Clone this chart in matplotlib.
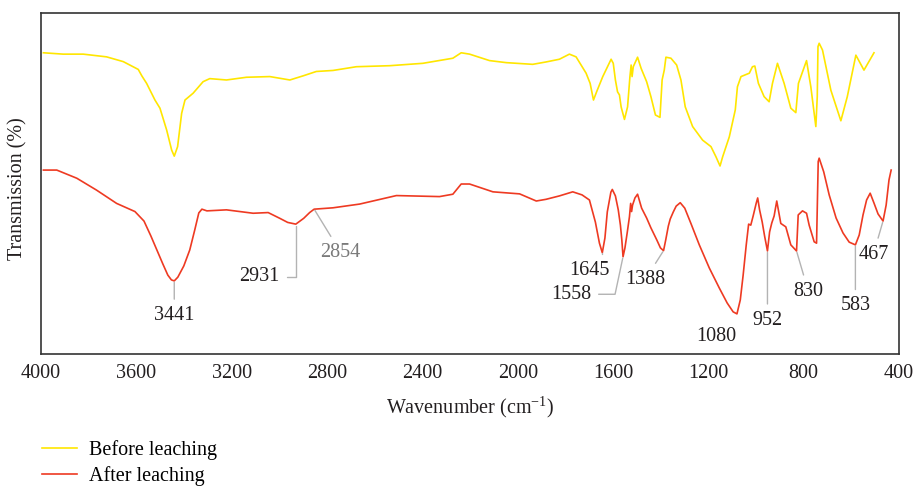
import matplotlib
matplotlib.use('Agg')
import matplotlib.pyplot as plt

plt.rcParams['font.family'] = 'Liberation Serif'
plt.rcParams['mathtext.fontset'] = 'custom'
plt.rcParams['mathtext.rm'] = 'Liberation Serif'

# FTIR spectrum before leaching
before_wn = [3990, 3907, 3823, 3725, 3655, 3592, 3577, 3557, 3522, 3501, 3473, 3452, 3441, 3427, 3410, 3396,
             3362, 3320, 3292, 3222, 3138, 3040, 2956, 2901, 2845, 2775, 2677, 2537, 2398, 2272, 2237,
             2202, 2118, 2048, 1937, 1881, 1825, 1783, 1755, 1713, 1696, 1682, 1669, 1643, 1608, 1599,
             1590, 1581, 1573, 1566, 1552, 1539, 1529, 1524, 1520, 1515, 1497, 1482, 1459, 1441, 1422,
             1403, 1394, 1385, 1378, 1357, 1333, 1315, 1297, 1266, 1224, 1189, 1168, 1151, 1140, 1112,
             1087, 1078, 1063, 1028, 1015, 1005, 990, 966, 945, 931, 910, 882, 854, 833, 822,
             788, 770, 749, 743, 740, 735, 721, 686, 644, 617, 581, 547, 505]
before_t = [88.6, 88.2, 88.2, 87.4, 86.0, 83.7, 81.8, 79.6, 74.7, 72.3, 65.9, 60.0, 58.2, 61.0, 70.8, 74.7,
            76.7, 80.1, 81.0, 80.6, 81.4, 81.6, 80.6, 81.8, 83.1, 83.4, 84.5, 84.8, 85.5, 87.0, 88.6,
            88.2, 86.3, 85.7, 85.2, 85.9, 86.7, 88.2, 87.4, 82.6, 79.6, 74.7, 77.1, 81.6, 86.7, 85.5,
            80.6, 77.1, 76.2, 72.7, 69.0, 72.7, 81.6, 85.0, 81.6, 84.5, 87.3, 84.0, 80.1, 75.7, 70.3,
            69.6, 80.6, 83.5, 87.3, 87.0, 85.0, 80.6, 72.7, 66.9, 62.9, 61.0, 58.0, 55.3, 58.0, 63.9,
            71.8, 78.6, 81.6, 82.6, 84.5, 84.7, 79.6, 75.7, 74.2, 79.6, 85.5, 79.6, 72.3, 71.0, 79.6,
            86.3, 78.6, 66.9, 75.7, 90.4, 91.4, 89.4, 77.6, 68.6, 75.7, 87.9, 83.5, 88.6]

# FTIR spectrum after leaching
after_wn = [3990, 3934, 3850, 3767, 3683, 3606, 3568, 3539, 3514, 3489, 3468, 3453, 3441, 3426, 3401,
            3376, 3355, 3338, 3325, 3304, 3222, 3110, 3047, 2998, 2965, 2931, 2898, 2873, 2854, 2775,
            2663, 2509, 2328, 2272, 2237, 2202, 2104, 1992, 1922, 1881, 1825, 1769, 1730, 1699, 1674,
            1657, 1645, 1634, 1624, 1609, 1603, 1590, 1578, 1569, 1563, 1558, 1550, 1540, 1531, 1526,
            1522, 1518, 1508, 1497, 1480, 1459, 1441, 1416, 1401, 1388, 1379, 1368, 1360, 1347, 1335,
            1318, 1299, 1272, 1238, 1196, 1154, 1121, 1096, 1080, 1066, 1054, 1041, 1031, 1022, 1012,
            999, 993, 985, 974, 964, 952, 943, 934, 924, 913, 896, 875, 854, 830, 823,
            805, 788, 777, 756, 746, 742, 739, 735, 716, 693, 664, 635, 609, 583, 567,
            551, 536, 521, 505, 488, 467, 454, 442, 433]
after_t = [54.1, 54.1, 51.7, 48.2, 44.3, 41.9, 39.1, 34.7, 30.6, 26.5, 23.2, 21.8, 21.5, 22.6, 25.9,
           30.6, 36.5, 41.5, 42.6, 42.1, 42.4, 41.4, 41.6, 39.9, 38.7, 38.2, 39.9, 41.6, 42.6, 43.0,
           44.1, 46.6, 46.3, 47.0, 50.0, 50.0, 47.7, 47.1, 45.0, 45.5, 46.5, 47.7, 46.8, 45.3, 38.8,
           32.6, 29.8, 34.1, 41.8, 47.6, 48.4, 46.5, 42.4, 37.9, 33.5, 28.6, 31.2, 35.9, 40.4, 44.3,
           41.9, 43.8, 45.9, 47.0, 42.9, 40.0, 37.1, 33.5, 31.2, 30.4, 33.5, 37.6, 39.7, 41.8, 43.5,
           44.5, 42.9, 38.2, 32.1, 25.3, 19.4, 15.0, 12.4, 11.8, 15.9, 23.2, 32.1, 38.2, 37.9, 40.6,
           44.4, 45.9, 42.4, 38.8, 34.7, 30.3, 35.9, 38.5, 40.6, 45.0, 38.4, 37.4, 32.1, 30.3, 40.9,
           42.1, 41.4, 37.9, 33.0, 32.6, 46.8, 56.6, 57.6, 53.6, 46.8, 40.0, 35.6, 32.9, 32.1, 35.0,
           40.9, 45.3, 47.3, 44.4, 41.2, 39.1, 43.8, 51.2, 54.1]

# labelled bands of the leached sample
peaks = [3441, 2931, 2854, 1645, 1558, 1388, 1080, 952, 830, 583, 467]

# label offsets (points) and leader styles
label_offsets = [(0, -25), (-26, -38), (19, -31), (-9, -12.5), (-37, -27), (-13, -20.5),
                 (-15, -16.5), (0, -50), (8.5, -29), (0, -44), (-7, -24)]
leaders = ['arc3', 'angle,angleA=0,angleB=90,rad=0', 'arc3', 'angle,angleA=0,angleB=90,rad=0',
           'angle,angleA=0,angleB=78,rad=0', 'arc3', None, 'arc3', 'arc3', 'arc3', 'arc3']
label_colors = ['#231f20', '#231f20', '#7a7a7a', '#231f20', '#231f20', '#231f20',
                '#231f20', '#231f20', '#231f20', '#231f20', '#231f20']

fs = 14.5

fig = plt.figure(figsize=(9.14, 4.87), dpi=100)
ax = fig.add_axes([0.0449, 0.2731, 0.9387, 0.7002])

line_before, = ax.plot(before_wn, before_t, color='#ffe600', lw=1.2, label='Before leaching')
line_after, = ax.plot(after_wn, after_t, color='#ee3a22', lw=1.2, label='After leaching')

for wn, (dx, dy), conn, col in zip(peaks, label_offsets, leaders, label_colors):
    y = after_t[after_wn.index(wn)]
    arrow = None
    if conn is not None:
        arrow = dict(arrowstyle='-', color='#b3b3b3', lw=1, shrinkA=3, shrinkB=1, connectionstyle=conn)
    ax.annotate(str(wn), xy=(wn, y), xytext=(dx, dy), textcoords='offset points',
                ha='center', va='center', fontsize=fs, color=col, arrowprops=arrow)

ax.set_xlim(4000, 400)
ax.set_ylim(0, 100.3)
ax.set_xticks([4000, 3600, 3200, 2800, 2400, 2000, 1600, 1200, 800, 400])
ax.set_yticks([])
ax.tick_params(axis='x', length=0, pad=7.5, labelsize=fs, labelcolor='#231f20')
for sp in ax.spines.values():
    sp.set_color('#333333')
    sp.set_linewidth(1.2)

fig.text(470 / 914, 1 - 407 / 487, 'Wavenumber (cm$^{-1}$)', ha='center', va='center',
         fontsize=fs, color='#231f20')
fig.text(18 / 914, 0.612, 'Transmission (%)', rotation=90, ha='center', va='center',
         fontsize=fs, color='#231f20')

# legend sits low under the axes, kept inside the canvas
fig.legend(handles=[line_before, line_after], loc='upper left', bbox_to_anchor=(0.046, 0.097),
           frameon=False, fontsize=fs, handlelength=1.74, handletextpad=0.6,
           labelspacing=0.3, borderpad=0, borderaxespad=0)

fig.savefig('out.png', dpi=100)
